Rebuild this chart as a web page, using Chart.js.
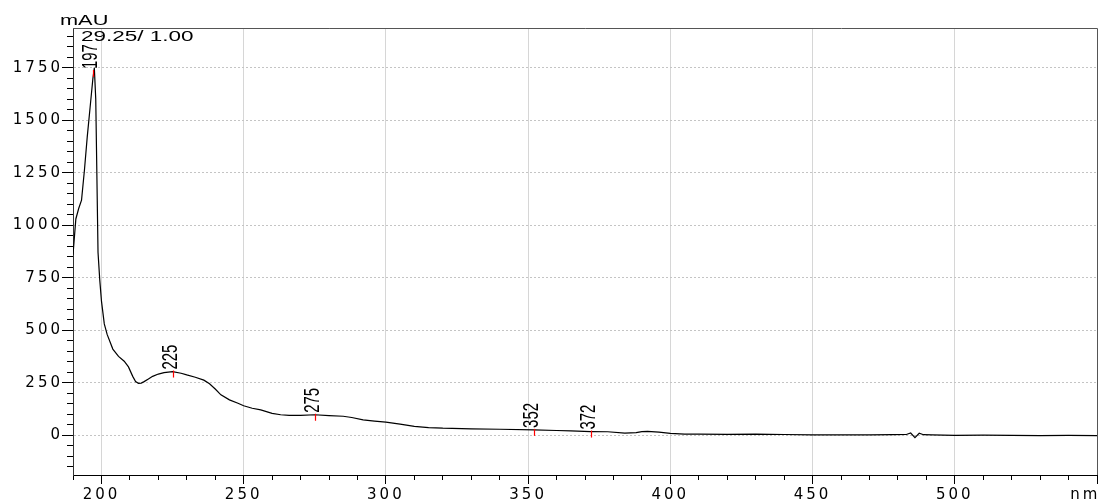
<!DOCTYPE html>
<html>
<head>
<meta charset="utf-8">
<script src="https://cdn.jsdelivr.net/npm/chart.js@4/dist/chart.umd.min.js"></script>
<style>
  body { margin: 0; background: #fff; }
  canvas { display: block; }
</style>
</head>
<body>
<canvas id="spectrum" width="1103" height="504"></canvas>
<script>
// wavelength (nm) and absorbance (mAU)
var wavelengths = [190, 191, 192, 193, 194, 195, 196, 197, 197.5, 198, 198.8, 199.4, 200, 201, 202, 204, 206, 208, 209.5, 211, 212, 213, 214, 215,
  216.5, 218, 220, 222, 225, 228, 230, 233, 236, 238, 240, 242, 245, 248, 250, 253, 256, 260, 263, 266, 270, 275, 280, 285, 288, 292, 296,
  300, 305, 310, 315, 320, 330, 340, 352, 360, 365, 372, 378, 384, 388, 390, 392, 396, 400, 405, 410, 420, 430, 440, 450, 460, 470, 478,
  483, 484.5, 486, 487.5, 489, 492, 500, 510, 520, 530, 540, 550];
var absorbance = [860, 1030, 1080, 1120, 1260, 1420, 1560, 1700, 1750, 1600, 870, 741, 640, 530, 480, 410, 375, 352, 325, 280, 255, 247, 248, 255,
  267, 280, 291, 298, 303, 295, 287, 276, 262, 245, 220, 192, 168, 152, 140, 128, 120, 104, 97, 94, 94, 97, 93, 90, 84, 73, 67,
  62, 52, 42, 36, 33, 30, 28, 25, 22, 20, 17, 16, 10, 12, 17, 18, 14, 8, 5, 5, 4, 5, 3, 1, 1, 1, 2,
  3, 10, -12, 9, 2, 1, -1, 0, -1, -2, -1, -2];

// labelled peaks
var peakNm = [197, 225, 275, 352, 372];
var peakAbs = [1735, 303, 97, 25, 17];

var headerText = '29.25/ 1.00';
var unitText = 'mAU';
var tickFont = { family: 'DejaVu Sans', size: 15 };
var spacing = '3px';

function stretchedText(ctx, text, x, y, sx) {
  ctx.save();
  ctx.translate(x, y);
  ctx.scale(sx, 1);
  ctx.fillText(text, 0, 0);
  ctx.restore();
}

function noPadding(s) {
  s.paddingLeft = 0;
  s.paddingRight = 0;
  s.paddingTop = 0;
  s.paddingBottom = 0;
}

var letterSpacingPlugin = {
  id: 'letterSpacing',
  beforeUpdate: function(chart) { chart.ctx.letterSpacing = spacing; },
  beforeDraw: function(chart) { chart.ctx.letterSpacing = spacing; }
};

var decorPlugin = {
  id: 'decor',
  afterDatasetsDraw: function(chart) {
    var ctx = chart.ctx;
    var area = chart.chartArea;
    var xs = chart.scales.x, ys = chart.scales.y;

    ctx.save();
    ctx.letterSpacing = '0px';

    // top and right frame
    ctx.strokeStyle = '#555';
    ctx.lineWidth = 1;
    ctx.beginPath();
    ctx.moveTo(area.left, Math.round(area.top) + 0.5);
    ctx.lineTo(Math.round(area.right) + 0.5, Math.round(area.top) + 0.5);
    ctx.lineTo(Math.round(area.right) + 0.5, area.bottom);
    ctx.stroke();

    // peak marks and labels
    peakNm.forEach(function(p, i) {
      var px = Math.round(xs.getPixelForValue(p)) + 0.5;
      var py = ys.getPixelForValue(peakAbs[i]);
      ctx.strokeStyle = '#ff0000';
      ctx.lineWidth = 1.2;
      ctx.beginPath();
      ctx.moveTo(px, py - 1);
      ctx.lineTo(px, py + 6);
      ctx.stroke();

      ctx.save();
      ctx.translate(px + 3, py - 2);
      ctx.rotate(-Math.PI / 2);
      ctx.scale(0.68, 1);
      ctx.font = '22px "Liberation Sans"';
      ctx.fillStyle = '#000';
      ctx.textAlign = 'left';
      ctx.textBaseline = 'alphabetic';
      ctx.fillText(String(p), 0, 0);
      ctx.restore();
    });

    ctx.fillStyle = '#000';
    ctx.font = '15px "Liberation Sans"';
    ctx.textAlign = 'left';
    ctx.textBaseline = 'alphabetic';
    stretchedText(ctx, unitText, 60, 25, 1.45);
    stretchedText(ctx, headerText, 81, 41, 1.5);
    ctx.restore();
  }
};

function buildSpectrum() {
  var ctx = document.getElementById('spectrum');
  if (!ctx) return;

  var points = wavelengths.map(function(w, i) { return { x: w, y: absorbance[i] }; });

  new Chart(ctx, {
    type: 'line',
    data: {
      datasets: [{
        data: points,
        borderColor: '#000',
        borderWidth: 1.2,
        pointRadius: 0,
        tension: 0,
        xAxisID: 'x',
        yAxisID: 'y'
      }]
    },
    plugins: [letterSpacingPlugin, decorPlugin],
    options: {
      responsive: false,
      animation: false,
      events: [],
      layout: { padding: { left: 0, top: 28, right: 6, bottom: 0 } },
      plugins: { legend: { display: false }, tooltip: { enabled: false } },
      scales: {
        x: {
          type: 'linear',
          position: 'bottom',
          weight: 10,
          min: 190,
          max: 550,
          afterFit: function(s) { s.height = 29; noPadding(s); },
          ticks: {
            stepSize: 50,
            includeBounds: false,
            autoSkip: false,
            maxRotation: 0,
            color: '#000',
            font: tickFont,
            padding: 2,
            callback: function(v) { return v === 550 ? 'nm   ' : String(v); }
          },
          grid: {
            color: function(c) { return c.tick && c.tick.value < 550 ? '#d6d6d6' : 'rgba(0,0,0,0)'; },
            tickColor: '#000',
            tickLength: 9
          },
          border: { color: '#000', width: 1 }
        },
        x2: {
          type: 'linear',
          axis: 'x',
          position: 'bottom',
          weight: 0,
          min: 190,
          max: 550,
          afterFit: function(s) { s.height = 0; noPadding(s); },
          ticks: { stepSize: 10, includeBounds: false, autoSkip: false, display: false },
          grid: { drawOnChartArea: false, tickColor: '#000', tickLength: 5 },
          border: { display: false }
        },
        y: {
          type: 'linear',
          position: 'left',
          weight: 10,
          min: -190,
          max: 1940,
          afterFit: function(s) { s.width = 73; noPadding(s); },
          ticks: {
            stepSize: 250,
            includeBounds: false,
            autoSkip: false,
            color: '#000',
            font: tickFont,
            padding: -1,
            callback: function(v) { return String(v); }
          },
          grid: { color: '#c4c4c4', tickColor: '#000', tickLength: 11 },
          border: { color: '#333', width: 1, dash: [2, 2] }
        },
        y2: {
          type: 'linear',
          axis: 'y',
          position: 'left',
          weight: 0,
          min: -190,
          max: 1940,
          afterFit: function(s) { s.width = 0; noPadding(s); },
          ticks: { stepSize: 50, includeBounds: false, autoSkip: false, display: false },
          grid: { drawOnChartArea: false, tickColor: '#000', tickLength: 6 },
          border: { display: false }
        }
      }
    }
  });
}

buildSpectrum();
</script>
</body>
</html>
